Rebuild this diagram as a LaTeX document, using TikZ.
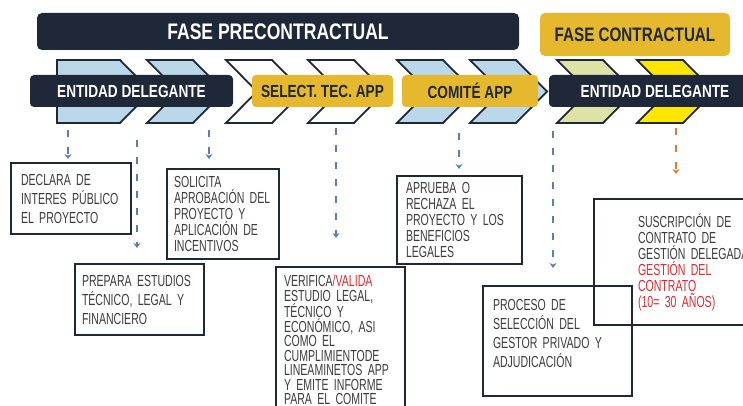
\documentclass[tikz,border=0pt]{standalone}
\usepackage{fontspec}
\usepackage{tikz}
\usetikzlibrary{arrows.meta}

\newfontfamily\headfont[FakeStretch=0.78]{Liberation Sans}
\newfontfamily\boxfont[FakeStretch=0.66]{Liberation Sans}

\definecolor{navy}{HTML}{1E2838}
\definecolor{gold}{HTML}{E6B82E}
\definecolor{lightblue}{HTML}{BBD7EA}
\definecolor{palegreen}{HTML}{DDE3A6}
\definecolor{brightyellow}{HTML}{FFE600}
\definecolor{arrowblue}{HTML}{5A7FAF}
\definecolor{arroworange}{HTML}{E8782A}
\definecolor{textred}{HTML}{E8262C}
\definecolor{txtgray}{HTML}{3C3C3C}

\begin{document}
\begin{tikzpicture}
        [
            x = 1pt, y = -1pt,
            phase/.style = {rounded corners = 5pt, font = \headfont\bfseries\fontsize{#1}{#1}\selectfont},
            actor/.style = {rounded corners = 4pt, minimum height = 32pt, font = \headfont\bfseries\fontsize{17.5}{20}\selectfont},
            chevron/.style = {draw = navy, line width = 1.8pt},
            flow/.style = {draw = arrowblue, line width = 2pt, dash pattern = on 7pt off 10pt, -{Stealth[length = 5pt, width = 7pt]}},
            task/.style = {draw = navy, line width = 2pt, align = left, text = txtgray, anchor = north west, font = \boxfont\fontsize{16}{#1}\selectfont}
        ]

        \clip (0,0) rectangle (743,406);

        \draw[chevron, fill = lightblue] (57,60) -- (120,60) -- (151,91.5) -- (120,123) -- (57,123) -- cycle;
        \foreach \x/\c in {147/lightblue, 226/white, 308/white, 397/lightblue, 470/lightblue, 557/palegreen, 637/brightyellow}
            \draw[chevron, fill = \c] (\x,60) -- ++(46,0) -- ++(31,31.5) -- ++(-31,31.5) -- ++(-46,0) -- ++(31,-31.5) -- cycle;

        \node[phase = 22.5, fill = navy, text = white, minimum width = 482pt, minimum height = 37pt] (precon) at (278,31.5) {FASE PRECONTRACTUAL};
        \node[phase = 19.5, fill = gold, text = navy, minimum width = 190pt, minimum height = 43pt] (contr) at (635,34.5) {FASE CONTRACTUAL};

        \node[actor, fill = navy, text = white, minimum width = 203pt] (entidad1) at (131.5,91) {ENTIDAD DELEGANTE};
        \node[actor, fill = gold, text = navy, minimum width = 141pt] (select) at (322.5,91) {SELECT. TEC. APP};
        \node[actor, fill = gold, text = navy, minimum width = 136pt] (comite) at (470,91) {COMITÉ APP};
        \node[actor, fill = navy, text = white, minimum width = 212pt] (entidad2) at (655,91) {ENTIDAD DELEGANTE};

        \node[task = 19, text width = 100pt, inner xsep = 10pt, minimum height = 71pt] (declara) at (10,162)
            {DECLARA DE\\INTERES PÚBLICO\\EL PROYECTO};
        \node[task = 19, text width = 115pt, inner xsep = 7pt, minimum height = 71pt] (prepara) at (74,263)
            {PREPARA ESTUDIOS\\TÉCNICO, LEGAL Y\\FINANCIERO};
        \node[task = 16, text width = 98pt, inner xsep = 7pt, minimum height = 90pt] (solicita) at (166,168)
            {SOLICITA\\APROBACIÓN DEL\\PROYECTO Y\\APLICACIÓN DE\\INCENTIVOS};
        \node[task = 14.5, text width = 113pt, inner xsep = 8pt, minimum height = 146pt] (verifica) at (275,266)
            {VERIFICA{\color{textred}/VALIDA}\\ESTUDIO LEGAL,\\TÉCNICO Y\\ECONÓMICO, ASI\\COMO EL\\CUMPLIMIENTODE\\LINEAMINETOS APP\\Y EMITE INFORME\\PARA EL COMITE};
        \node[task = 16, text width = 107pt, inner xsep = 9pt, minimum height = 88pt] (aprueba) at (396,175)
            {APRUEBA O\\RECHAZA EL\\PROYECTO Y LOS\\BENEFICIOS\\LEGALES};
        \node[task = 19, text width = 129pt, inner xsep = 10pt, minimum height = 110pt, text depth = 72pt] (proceso) at (482,285)
            {PROCESO DE\\SELECCIÓN DEL\\GESTOR PRIVADO Y\\ADJUDICACIÓN};
        \node[task = 16, text width = 122pt, inner xsep = 44pt, minimum height = 126pt] (suscripcion) at (593,198)
            {SUSCRIPCIÓN DE\\CONTRATO DE\\GESTIÓN DELEGADA\\{\color{textred}GESTIÓN DEL}\\{\color{textred}CONTRATO}\\{\color{textred}(10= 30 AÑOS)}};

        \coordinate (s1) at (68,130);
        \coordinate (s2) at (137,140);
        \coordinate (s3) at (209,130);
        \coordinate (s4) at (336,128);
        \coordinate (s5) at (459,133);
        \coordinate (s6) at (553,131);
        \coordinate (s7) at (676,128);

        \foreach \s/\b/\g in {s1/declara/3, s2/prepara/15, s3/solicita/9, s4/verifica/28, s5/aprueba/6, s6/proceso/17}
            \draw[flow, shorten > = \g pt] (\s) -- (\s |- \b.north);
        \draw[flow, draw = arroworange, shorten > = 24pt] (s7) -- (s7 |- suscripcion.north);
    \end{tikzpicture}
\end{document}
